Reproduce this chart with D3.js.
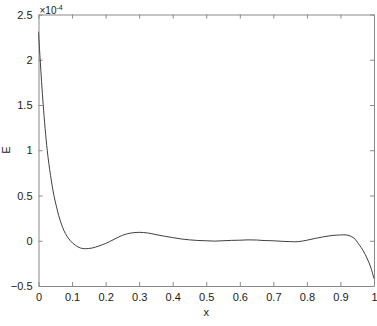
<!DOCTYPE html>
<html>
<head>
<meta charset="utf-8">
<script src="https://cdn.jsdelivr.net/npm/d3@7"></script>
<style>
  body { margin: 0; background: #fff; }
  text { font-family: "Liberation Sans", Arial, sans-serif; fill: #1a1a1a; }
</style>
</head>
<body>
<svg id="chart" width="377" height="326"></svg>
<script>
// values, E in units of 1e-4
const xs = [0, 0.005, 0.014, 0.026, 0.036, 0.046, 0.056, 0.065, 0.08, 0.095, 0.11, 0.125, 0.14, 0.16, 0.18, 0.2,
  0.225, 0.25, 0.275, 0.3, 0.325, 0.35, 0.375, 0.4, 0.425, 0.45, 0.475, 0.5, 0.525, 0.55, 0.575, 0.6,
  0.625, 0.65, 0.675, 0.7, 0.725, 0.75, 0.775, 0.8, 0.825, 0.85, 0.875, 0.9, 0.92, 0.94, 0.955, 0.968,
  0.98, 0.99, 1.0];
const es = [2.31, 2.0, 1.5, 1.0, 0.72, 0.5, 0.34, 0.22, 0.08, 0.0, -0.05, -0.08, -0.088, -0.08, -0.058, -0.03,
  0.015, 0.06, 0.085, 0.093, 0.086, 0.068, 0.05, 0.035, 0.02, 0.01, 0.003, 0.0, -0.004, 0.0, 0.004, 0.006,
  0.01, 0.008, 0.002, 0.0, -0.006, -0.01, -0.01, 0.006, 0.026, 0.044, 0.058, 0.064, 0.063, 0.03, -0.04, -0.11,
  -0.2, -0.29, -0.42];
const xTicks = [0, 0.1, 0.2, 0.3, 0.4, 0.5, 0.6, 0.7, 0.8, 0.9, 1];
const yTicks = [-0.5, 0, 0.5, 1, 1.5, 2, 2.5];

const margin = {top: 14.5, right: 3, bottom: 40, left: 38.5};
const width = 377, height = 326;
const svg = d3.select("#chart");

const x = d3.scaleLinear().domain([0, 1]).range([margin.left, width - margin.right]);
const y = d3.scaleLinear().domain([-0.5, 2.5]).range([height - margin.bottom, margin.top]);

const tickFmt = d => d3.format("")(d);
const axisColor = "#8a8a8a";

function styleAxis(g) {
    g.select(".domain").attr("stroke", axisColor);
    g.selectAll(".tick line").attr("stroke", axisColor);
    g.selectAll(".tick text").attr("font-size", 11).attr("fill", "#1a1a1a");
}

svg.append("g")
    .attr("transform", "translate(0," + y(-0.5) + ")")
    .call(d3.axisBottom(x).tickValues(xTicks).tickFormat(tickFmt).tickSize(-4).tickSizeOuter(0).tickPadding(7))
    .call(styleAxis);

svg.append("g")
    .attr("transform", "translate(0," + y(2.5) + ")")
    .call(d3.axisTop(x).tickValues(xTicks).tickFormat("").tickSize(-4).tickSizeOuter(0))
    .call(styleAxis);

svg.append("g")
    .attr("transform", "translate(" + x(0) + ",0)")
    .call(d3.axisLeft(y).tickValues(yTicks).tickFormat(tickFmt).tickSize(-4).tickSizeOuter(0).tickPadding(6))
    .call(styleAxis);

svg.append("g")
    .attr("transform", "translate(" + x(1) + ",0)")
    .call(d3.axisRight(y).tickValues(yTicks).tickFormat("").tickSize(-4).tickSizeOuter(0))
    .call(styleAxis);

const line = d3.line()
    .x((d, i) => x(xs[i]))
    .y(d => y(d))
    .curve(d3.curveCatmullRom.alpha(0.5));

svg.append("path")
    .datum(es)
    .attr("fill", "none")
    .attr("stroke", "#404040")
    .attr("stroke-width", 1)
    .attr("d", line);

// exponent label
const expo = svg.append("text")
    .attr("x", x(0) + 1)
    .attr("y", 14)
    .attr("font-size", 10);
expo.append("tspan").text("\u00d710");
expo.append("tspan").attr("font-size", 7).attr("dy", -4).text("-4");

svg.append("text")
    .attr("x", x(0.5))
    .attr("y", 316)
    .attr("text-anchor", "middle")
    .attr("font-size", 11)
    .text("x");

svg.append("text")
    .attr("transform", "translate(10,150) rotate(-90)")
    .attr("text-anchor", "middle")
    .attr("font-size", 11)
    .text("E");
</script>
</body>
</html>
